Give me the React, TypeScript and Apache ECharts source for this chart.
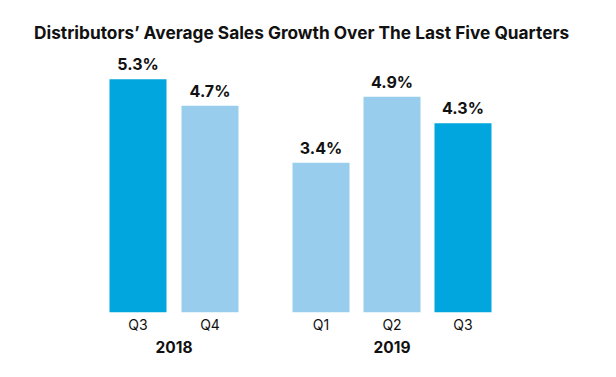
import React, { useEffect, useRef } from "react";
import * as echarts from "echarts";

const title = "Distributors\u2019 Average Sales Growth Over The Last Five Quarters";
const quarters2018 = ["Q3", "Q4"];
const values2018 = [5.3, 4.7];
const quarters2019 = ["Q1", "Q2", "Q3"];
const values2019 = [3.4, 4.9, 4.3];
const highlight2018 = [true, false];
const highlight2019 = [false, false, true];
const years = ["2018", "2019"];

const DARK = "#00a6dd";
const LIGHT = "#99cdee";
const FONT = "Inter, 'Noto Sans', sans-serif";

export default function App() {
  const ref = useRef<HTMLDivElement>(null);
  useEffect(() => {
    if (!ref.current) return;
    const chart = echarts.init(ref.current, undefined, { renderer: "svg" });
    const mk = (vals: number[], hl: boolean[]) =>
      vals.map((v, i) => ({ value: v, itemStyle: { color: hl[i] ? DARK : LIGHT } }));
    const xAxisBase = (cats: string[], gi: number, name: string) => ({
      type: "category" as const,
      gridIndex: gi,
      data: cats,
      axisLine: { show: false },
      axisTick: { show: false },
      axisLabel: { color: "#111", fontSize: 14, fontFamily: FONT, margin: 5 },
      name,
      nameLocation: "middle" as const,
      nameGap: 27,
      nameTextStyle: { color: "#111", fontSize: 15.5, fontWeight: "bold" as const, fontFamily: FONT },
    });
    const yAxisBase = (gi: number) => ({
      type: "value" as const,
      gridIndex: gi,
      min: 0,
      max: 6,
      show: false,
      splitLine: { show: false },
    });
    const label = {
      show: true,
      position: "top" as const,
      distance: 7,
      formatter: (p: any) => p.value.toFixed(1) + "%",
      color: "#111",
      fontSize: 16,
      fontWeight: "bold" as const,
      fontFamily: FONT,
    };
    chart.setOption({
      animation: false,
      backgroundColor: "#fff",
      title: {
        text: title,
        left: 29,
        top: 19,
        textStyle: { color: "#111", fontSize: 17.3, fontWeight: "bold", fontFamily: FONT },
      },
      grid: [
        { left: 102, width: 144, top: 48.5, bottom: 64.7 },
        { left: 285.5, width: 213, top: 48.5, bottom: 64.7 },
      ],
      xAxis: [xAxisBase(quarters2018, 0, years[0]), xAxisBase(quarters2019, 1, years[1])],
      yAxis: [yAxisBase(0), yAxisBase(1)],
      series: [
        { type: "bar", xAxisIndex: 0, yAxisIndex: 0, barWidth: 57, data: mk(values2018, highlight2018), label },
        { type: "bar", xAxisIndex: 1, yAxisIndex: 1, barWidth: 57, data: mk(values2019, highlight2019), label },
      ],
    });
    return () => chart.dispose();
  }, []);
  return <div ref={ref} style={{ width: 616, height: 377, position: "absolute", left: 0, top: 0 }} />;
}
